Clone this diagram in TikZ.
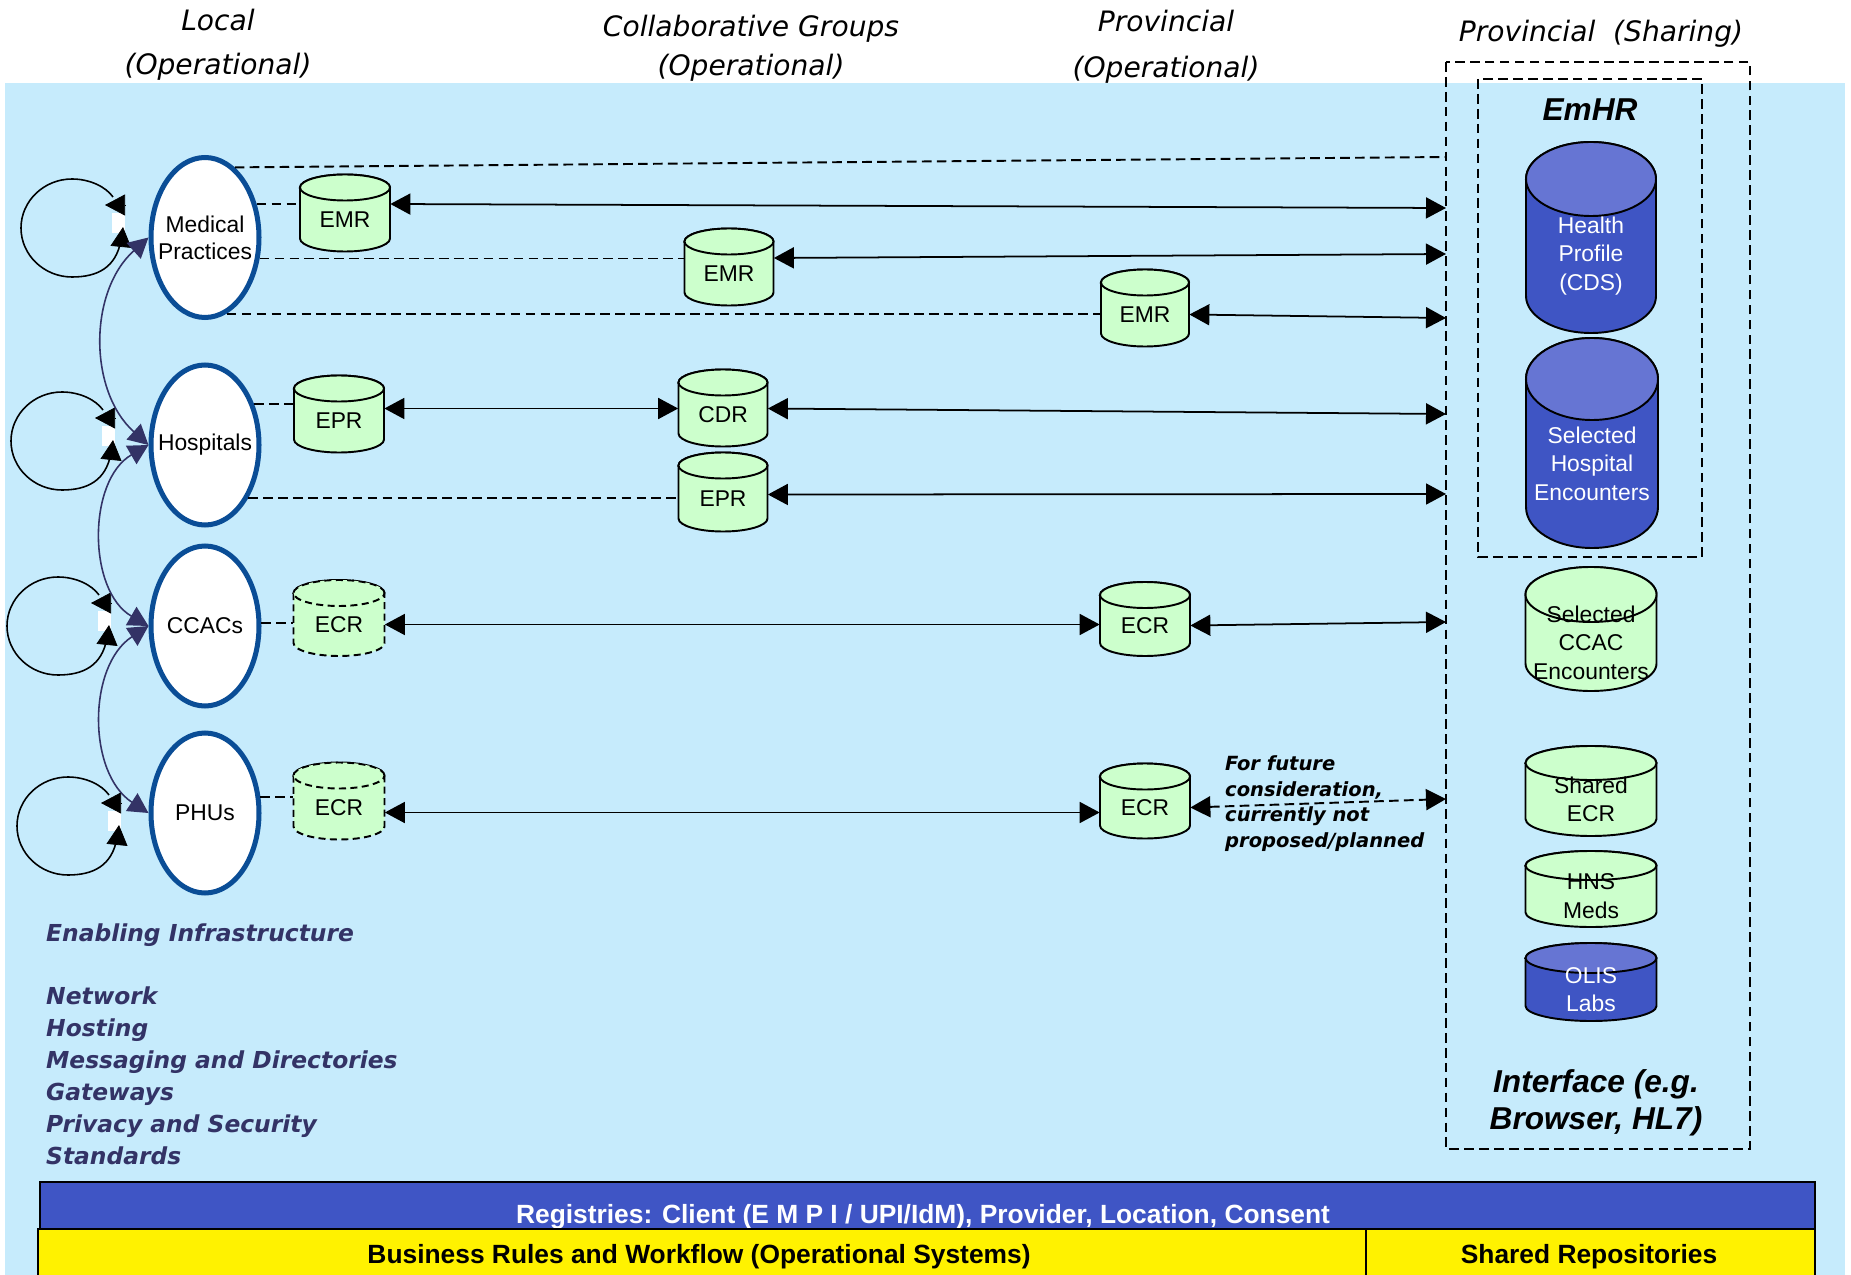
\documentclass[tikz,border=0pt]{standalone}
\usepackage{fontspec}
\setmainfont{Liberation Sans}
\newfontfamily\verdfont{DejaVu Sans}
\usetikzlibrary{positioning,calc,arrows.meta,shapes.geometric}

\definecolor{skyfill}{HTML}{C6EBFC}
\definecolor{siteblue}{HTML}{0A4D96}
\definecolor{storegreen}{HTML}{CCFFCC}
\definecolor{storeblue}{HTML}{3F55C4}
\definecolor{storetop}{HTML}{6675D3}
\definecolor{navy}{HTML}{333366}
\definecolor{barblue}{HTML}{3F55C5}

\tikzset{
  heading/.style={font=\verdfont\itshape\fontsize{16}{19}\selectfont},
  site/.style={ellipse, draw=siteblue, line width=2.85pt, fill=white,
    minimum width=21.6mm, minimum height=32mm, inner xsep=-10pt, inner ysep=0pt,
    align=center, font=\fontsize{13}{15.4}\selectfont},
  link/.style={line width=1.1pt, dash pattern=on 5.5pt off 3pt},
  flow/.style={<->, line width=1pt},
  peer/.style={<->, color=navy, line width=0.9pt},
  store text/.style={inner sep=0pt, align=center, font=\fontsize{13}{16.3}\selectfont},
  pale/.style={draw, fill=storegreen, line width=1.1pt},
  pale top/.style={},
  pale text/.style={text=black},
  ghost/.style={pale, dash pattern=on 4pt off 2.5pt},
  ghost top/.style={},
  ghost text/.style={text=black},
  deep/.style={draw, fill=storeblue, line width=1.1pt},
  deep top/.style={fill=storetop},
  deep text/.style={text=white},
  bigital/.style={font=\bfseries\itshape\fontsize{18}{21}\selectfont},
  infra/.style={text=navy, font=\verdfont\bfseries\itshape\fontsize{13.3}{16}\selectfont},
  note/.style={align=left, font=\verdfont\bfseries\itshape\fontsize{11.1}{14.6}\selectfont},
  bartext/.style={font=\bfseries\fontsize{15}{18}\selectfont},
  selfcycle/.pic={
    \fill[white] (40,-5) rectangle (53,15);
    \draw[line width=0.9pt] (49,-12) .. controls (44,-40) and (25,-49) .. (0,-49)
      .. controls (-28,-49) and (-51,-27) .. (-51,0)
      .. controls (-51,27) and (-28,49) .. (0,49)
      .. controls (18,49) and (34,41) .. (41,31);
    \draw[->] (53,23) -- (33,23);
    \draw[->] (49,-19) -- (51,1);
  }
}

% #1 kind, #2 name, #3 x, #4 y, #5 width, #6 height, #7 end radius, #8 text
\newcommand{\DataStore}[8]{%
  \path[#1] (#3-#5/2,#4+#6/2-#7) -- (#3-#5/2,#4-#6/2+#7)
    arc[start angle=180,end angle=360,x radius=#5*0.1mm,y radius=#7*0.2mm]
    -- (#3+#5/2,#4+#6/2-#7)
    arc[start angle=0,end angle=180,x radius=#5*0.1mm,y radius=#7*0.2mm] -- cycle;
  \path[#1,#1 top] (#3,#4+#6/2-#7) ellipse[x radius=#5*0.1mm,y radius=#7*0.2mm];
  \node[store text,#1 text,minimum width=#5*0.2mm,minimum height={(#6-#7)*0.2mm}] (#2) at (#3,#4-#7/2) {#8};
}

\begin{document}
\begin{tikzpicture}[x=0.2mm, y=0.2mm, >={Triangle[length=4mm,width=4.2mm]}]
\useasboundingbox (0,0) rectangle (1851,-1275);
\fill[skyfill] (5,-83) rectangle (1845,-1275);

% column headings
\node[heading, anchor=base] (hLocal) at (218,-31) {Local};
\node[heading, anchor=base] (hLocalOp) at (218,-75) {(Operational)};
\node[heading, anchor=base] (hGroup) at (751,-37) {Collaborative Groups};
\node[heading, anchor=base] (hGroupOp) at (751,-76) {(Operational)};
\node[heading, anchor=base] (hProv) at (1166,-32) {Provincial};
\node[heading, anchor=base] (hProvOp) at (1166,-78) {(Operational)};
\node[heading, anchor=base] (hShare) at (1601,-42) {Provincial~~(Sharing)};

% sharing boxes
\draw[link] (1446,-62) rectangle (1750,-1149);
\draw[link] (1478,-79) rectangle (1702,-557);
\node[bigital] (emhr) at (1590,-110) {EmHR};

% repositories
\DataStore{pale}{emrA}{345}{-213}{90}{77}{13}{EMR}
\DataStore{pale}{emrB}{729}{-267}{89}{77}{13}{EMR}
\DataStore{pale}{emrC}{1145}{-308}{88}{77}{13}{EMR}
\DataStore{pale}{eprA}{339}{-414}{90}{77}{13}{EPR}
\DataStore{pale}{cdr}{723}{-408}{89}{77}{13}{CDR}
\DataStore{pale}{eprB}{723}{-492}{89}{79}{13}{EPR}
\DataStore{ghost}{ecrA}{339}{-618}{91}{76}{13}{ECR}
\DataStore{ghost}{ecrB}{339}{-801}{91}{77}{13}{ECR}
\DataStore{pale}{ecrC}{1145}{-619}{90}{74}{13}{ECR}
\DataStore{pale}{ecrD}{1145}{-801}{90}{75}{13}{ECR}
\DataStore{deep}{profile}{1591}{-237.5}{130}{191}{37}{Health\\Profile\\(CDS)}
\DataStore{deep}{hospEnc}{1592}{-443}{132}{210}{41}{Selected\\Hospital\\Encounters}
\DataStore{pale}{ccacEnc}{1591}{-629}{131}{124}{27.5}{Selected\\CCAC\\Encounters}
\DataStore{pale}{sharedEcr}{1591}{-791}{131}{90}{17}{Shared\\ECR}
\DataStore{pale}{hnsMeds}{1591}{-889}{131}{76}{14.5}{HNS\\Meds}
\DataStore{deep}{olisLabs}{1591}{-982}{131}{78}{15}{OLIS\\Labs}

% care settings
\node[site] (med) at (205,-237.5) {Medical\\Practices};
\node[site] (hosp) at (205,-445) {Hospitals};
\node[site] (ccac) at (205,-626) {CCACs};
\node[site] (phu) at (205,-813) {PHUs};

\pic at (72,-228) {selfcycle};
\pic at (62,-441) {selfcycle};
\pic at (58,-626) {selfcycle};
\pic at (68,-826) {selfcycle};

\draw[peer] (med.west) to[bend right=48] (hosp.west);
\draw[peer] (hosp.west) to[bend right=60] (ccac.west);
\draw[peer] (ccac.west) to[bend right=57] (phu.west);

% free ends on the sharing box
\coordinate (topEnd) at (1446,-157);
\coordinate (pA) at (1446,-208);
\coordinate (pB) at (1446,-254);
\coordinate (pC) at (1446,-318);
\coordinate (pD) at (1446,-414);
\coordinate (pE) at (1446,-494);
\coordinate (pF) at (1446,-622);
\coordinate (pG) at (1446,-799);

\draw[link] (med.67) -- (topEnd);
\draw[link] (med.33) -- (emrA.west |- med.33);
\draw[link] (med.-21) -- (emrB.west |- med.-21);
\draw[link] (med.-74) -- (emrC.west |- med.-74);
\draw[link] (hosp.40) -- (eprA.west |- hosp.40);
\draw[link] (hosp.-51) -- (eprB.west |- hosp.-51);
\draw[link] (ccac.3) -- (ecrA.west |- ccac.3);
\draw[link] (phu.16) -- (ecrB.west |- phu.16);

\draw[flow] ($(emrA.east)+(0,15.5)$) -- (pA);
\draw[flow] ($(emrB.east)+(0,15.5)$) -- (pB);
\draw[flow] (emrC.east) -- (pC);
\draw[flow] ($(eprA.east)+(0,12)$) -- ($(cdr.west)+(0,6)$);
\draw[flow] ($(cdr.east)+(0,6)$) -- (pD);
\draw[flow] ($(eprB.east)+(0,4)$) -- (pE);
\draw[flow] (ecrA.east) -- (ecrC.west |- ecrA.east);
\draw[flow] (ecrC.east) -- (pF);
\draw[flow] ($(ecrB.east)+(0,-5)$) -- ($(ecrD.west)+(0,-5)$);
\draw[flow, link] (ecrD.east) -- (pG);

\node[note, anchor=west] (future) at (1219,-803.5) {For future\\consideration,\\currently not\\proposed/planned};
\node[bigital, align=center] (iface) at (1596,-1103) {Interface (e.g.\\Browser, HL7)};

% enabling infrastructure
\node[infra, anchor=base west] (infraHead) at (40,-941) {Enabling Infrastructure};
\node[infra, anchor=base west] (infNet) at (40,-1004) {Network};
\node[infra, anchor=base west] (infHost) at (40,-1036) {Hosting};
\node[infra, anchor=base west] (infMsg) at (40,-1068) {Messaging and Directories};
\node[infra, anchor=base west] (infGate) at (40,-1100) {Gateways};
\node[infra, anchor=base west] (infPriv) at (40,-1132) {Privacy and Security};
\node[infra, anchor=base west] (infStd) at (40,-1164) {Standards};

% bottom bars
\draw[line width=1.1pt, fill=barblue] (40,-1182) rectangle (1815,-1229);
\node[bartext, text=white, anchor=base] (registries) at (923,-1223) {Registries: Client (E M P I / UPI/IdM), Provider, Location, Consent};
\draw[line width=1.1pt, fill=yellow] (38,-1229) rectangle (1366,-1285);
\draw[line width=1.1pt, fill=yellow] (1366,-1229) rectangle (1815,-1285);
\node[bartext, anchor=base] (workflow) at (699,-1263) {Business Rules and Workflow (Operational Systems)};
\node[bartext, anchor=base] (sharedRepo) at (1589,-1263) {Shared Repositories};
\end{tikzpicture}
\end{document}
